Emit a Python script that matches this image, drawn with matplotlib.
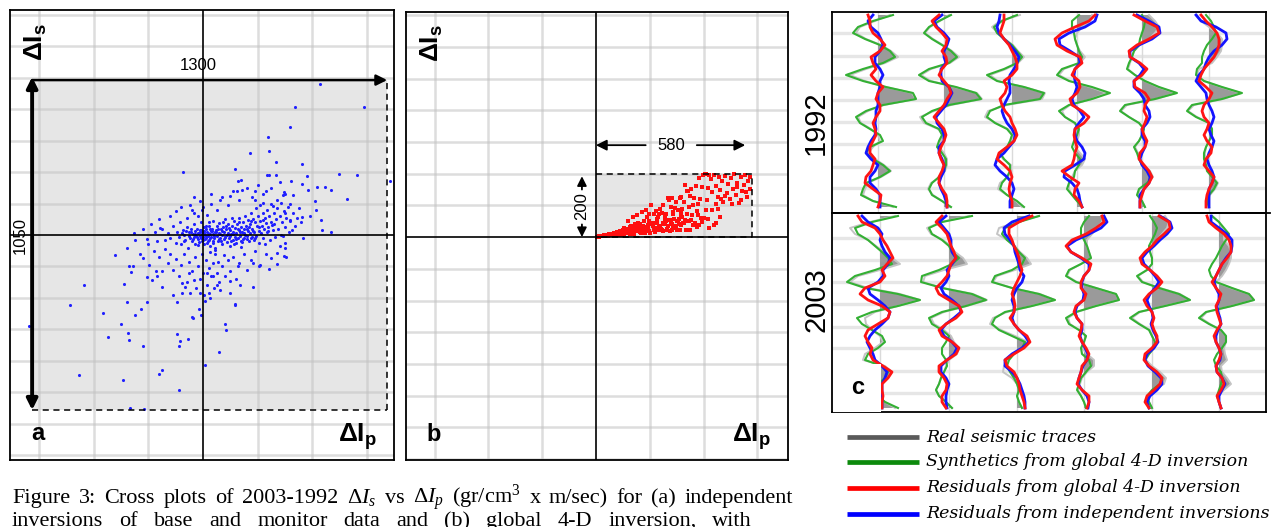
import numpy as np
import matplotlib
matplotlib.use("Agg")
import matplotlib.pyplot as plt
from matplotlib.patches import Rectangle

plt.rcParams['font.family'] = ['Liberation Sans', 'DejaVu Sans']
plt.rcParams['mathtext.fontset'] = 'custom'
plt.rcParams['mathtext.rm'] = 'Liberation Serif'
plt.rcParams['mathtext.it'] = 'Liberation Serif:italic'
plt.rcParams['mathtext.bf'] = 'Liberation Sans:bold'

# ---------------- DATA ----------------
# panel a : independent inversions (dIp, dIs)
a_outliers = [(428,481),(337,407),(589,406),(318,344),(239,311),(172,260),(243,266),(267,233),(361,227),(116,209),
 (-74,200),(233,190),(266,190),(379,187),(499,193),(562,190),(684,171),(323,171),(361,163),(416,153),(447,153),
 (468,143),(528,116),(411,108),(413,81),(331,128),(296,137),(383,144),(392,61),(361,57),(432,49),(436,17),(468,10),
 (367,-11),(304,-71),(243,-108),(270,-91),(206,-100),(184,-165),(116,-220),(82,-282),(83,-301),(57,-372),(6,-414),
 (-90,-492),(-267,-550),(-218,-553),(-292,-463),(-456,-444),(-163,-443),(-152,-430),(-54,-331),(-96,-316),(-84,-338),
 (-88,-352),(-221,-352),(-274,-312),(-271,-335),(-301,-284),(-350,-326),(-367,-248),(-489,-224),(-436,-160),(-636,-290),
 (-249,-255),(-226,-237),(-279,-214),(-206,-214),(-289,-156),(-322,-63),(-279,-41),(-273,-98),(-255,-100),(-264,-119),
 (-206,-134),(-188,-144),(-170,-131),(-172,-113),(-152,-116),(-149,-165),(-199,-94),(-220,-73),(-231,-60),(-249,-15),
 (-253,6),(-158,21),(-206,-12),(-112,-190),(-96,-213),(-41,-262),(-36,-264),(-15,-237),(-9,-253),(6,-211),(26,-202),
 (62,-176),(99,-184),(117,-222),(20,-184),(-13,-184),(-48,-184),(-78,-184),(-66,-165),(-35,-142),(-50,-121),(-78,-153),
 (135,-158),(99,-147),(50,-158),(38,-131),(13,-121),(129,-100),(184,-89),(248,-74),(270,-57),(300,-25),(282,-36),
 (-33,120),(-48,96),(-11,107),(-32,70),(-5,78),(28,131),(62,112),(99,123),(126,171),(138,176),(141,144),(123,139),
 (190,139),(230,139),(190,112),(221,102),(257,91),(291,128),(284,102),(300,70),(318,49),(324,17),(294,-4),(300,-41),(297,-68)]
a_core = [(-150,20),(-130,5),(-120,-10),(-110,30),(-100,-25),(-95,10),(-90,-5),(-85,40),(-80,-30),(-75,15),(-70,0),
 (-65,-15),(-60,25),(-55,-40),(-50,8),(-48,-8),(-45,20),(-40,-20),(-38,3),(-35,35),(-32,-5),(-30,12),(-28,-28),(-25,-2),
 (-22,18),(-20,-12),(-18,5),(-15,-22),(-12,8),(-10,-3),(-8,15),(-6,-10),(-5,2),(-3,-18),(-2,10),(0,-5),(2,25),(3,-30),
 (5,5),(6,-12),(8,0),(10,18),(12,-8),(14,-25),(15,8),(18,-2),(20,30),(22,-15),(24,4),(26,-35),(28,12),(30,-6),(32,20),
 (35,-20),(36,2),(38,45),(40,-10),(42,8),(45,-40),(47,15),(50,-3),(52,28),(55,-18),(58,5),(60,38),(62,-8),(65,18),
 (68,-28),(70,0),(72,25),(75,-12),(78,10),(80,50),(82,-5),(85,20),(88,-22),(90,5),(92,35),(95,-10),(98,15),(100,-35),
 (103,2),(105,28),(108,-15),(110,10),(112,45),(115,-5),(118,22),(120,-25),(122,6),(125,35),(128,-10),(130,15),(133,55),
 (135,-2),(138,25),(140,-18),(143,8),(145,40),(148,-8),(150,20),(153,62),(155,0),(158,30),(160,-12),(163,12),(165,48),
 (168,-20),(170,5),(173,35),(175,70),(178,-5),(180,20),(183,52),(185,-15),(188,8),(190,40),(193,85),(195,-2),(198,28),
 (200,60),(203,-25),(205,12),(208,45),(210,95),(213,5),(215,30),(218,70),(220,-10),(223,18),(225,55),(228,-30),(230,38),
 (233,80),(235,8),(238,25),(240,60),(245,-15),(248,42),(250,100),(255,15),(258,70),(260,35),(265,-5),(268,50),(270,85),
 (275,20),(280,60),(285,0),(290,40),(295,75),(300,25),(305,55),(310,90),(315,10),(320,45),(330,70),(335,30),(345,55),
 (350,85),(360,40),(-180,-50),(-170,-20),(-160,-70),(-140,-45),(-130,-90),(-120,-60),(-110,-110),(-100,-75),(-90,-130),
 (-80,-95),(-70,-60),(-60,-150),(-50,-85),(-40,-115),(-30,-70),(-25,-170),(-20,-100),(-10,-140),(-5,-60),(0,-120),
 (5,-190),(10,-80),(15,-160),(20,-105),(25,-55),(30,-130),(35,-90),(40,-170),(45,-60),(50,-120),(55,-85),(60,-150),
 (70,-100),(75,-65),(80,-130),(90,-80),(100,-115),(110,-70),(120,-140),(130,-90),(150,-60),(160,-110),(175,-80),
 (190,-50),(210,-95),(230,-60),(-220,20),(-200,-30),(-190,35),(-175,10),(-160,50),(-140,-15),(-120,60),(-100,75),
 (-80,90),(-60,55),(-40,80),(-20,60),(0,90),(15,65),(30,100),(50,80),(70,120),(90,95),(110,140),(130,110),(160,150),
 (180,120),(200,160),(220,130),(250,150),(270,110),(300,130),(320,100),(280,170),(240,190)]
a_dense = [(-5,-8),(3,12),(11,-4),(19,6),(27,-9),(33,14),(41,-2),(49,9),(57,-14),(63,3),(71,12),(79,-7),(87,-1),
 (95,23),(103,-20),(111,4),(119,-12),(127,19),(135,9),(143,-22),(151,7),(159,-3),(167,24),(175,-10),(183,13),(-13,17),
 (-21,-6),(-29,4),(-37,-14),(-45,9),(-53,-2),(-61,13),(-69,-20),(-77,5),(1,-15),(9,28),(17,-20),(25,18),(37,-26),
 (53,20),(67,-18),(83,30),(97,-4),(113,-28),(131,42),(147,-12),(161,18),(177,44),(191,-8),(205,26),(219,48),(236,12),
 (252,32),(-9,40),(-17,-32),(21,42),(44,-48),(74,40),(106,54),(140,-38)]
a_range_ip, a_range_is = 1300, 1050

# panel b : global 4-D inversion (dIp, dIs)
b_band = [(3,0),(6,1),(8,1),(11,1),(13,2),(16,3),(18,2),(21,3),(24,4),(26,3),(29,4),(31,6),(34,7),(36,7),(39,8),
 (41,5),(44,4),(46,5),(49,10),(51,7),(54,9),(57,6),(59,10),(62,8),(64,8),(67,8),(69,14),(72,8),(74,8),(77,14),(80,17),
 (82,12),(85,6),(87,9),(90,18),(92,18),(95,13),(97,8),(100,21),(103,19),(105,9),(108,18),(110,24),(113,13),(115,25),
 (118,25),(120,14),(123,22),(126,19),(128,11),(131,9),(133,20),(136,27),(138,14),(141,10),(143,31),(146,27),(149,20),
 (151,32),(154,21),(156,21),(159,24),(161,34),(164,17),(166,20),(169,12),(172,31),(174,34),(177,15),(179,30),(182,24),
 (184,13),(187,31),(189,19),(192,38),(195,32),(197,20),(200,14),(202,40),(205,44),(207,44),(210,42),(212,35),(215,22),
 (218,43),(220,15),(223,26),(225,30),(228,45),(230,23),(233,35),(236,28),(238,32),(241,25),(243,21),(246,21),(248,45),
 (251,18),(254,42),(256,47),(259,55),(261,52),(264,27),(266,23),(269,36),(272,54),(274,19),(277,55),(279,46),(282,42),
 (284,24),(287,34),(290,30),(292,58),(295,30),(297,35),(300,21),(302,50),(305,51),(308,41),(310,56),(313,22),(315,67),
 (318,38),(321,64),(324,43),(327,44),(331,55),(334,23),(338,72),(341,51),(345,52),(349,24),(353,53),(357,71),(361,37),
 (366,37),(370,44),(375,32),(380,69),(385,39),(390,59),(396,47),(402,60),(408,87),(415,56),(422,30),(430,85),(438,38),
 (447,46),(455,90),(463,62)]
b_mid = [(105,29),(118,51),(127,32),(139,64),(146,41),(152,70),(163,41),(171,79),(178,50),(185,85),(191,65),(199,74),
 (204,100),(211,46),(217,74),(222,82),(229,64),(235,73),(240,89),(246,76),(251,100),(255,56),(262,73),(267,123),
 (273,117),(278,95),(284,122),(288,72),(294,91),(299,111),(305,85),(311,124),(316,126),(321,90),(327,111),(332,163),
 (338,145),(343,147),(349,129),(354,152),(360,101),(365,124),(371,160),(376,83),(382,187),(387,120),(393,157),
 (398,195),(404,198),(410,199),(416,154),(421,197),(132,36),(158,45),(196,52),(226,58),(258,66),(286,80),(318,78),
 (346,95),(379,105),(412,118)]
b_upper = [(428,183),(433,142),(439,197),(446,161),(452,128),(457,189),(463,150),(469,176),(474,112),(480,193),
 (486,138),(491,168),(497,121),(503,185),(509,152),(515,199),(520,133),(526,172),(532,108),(538,190),(543,147),
 (549,165),(555,196),(561,126),(566,178),(571,152),(574,191),(541,118),(507,104),(478,130),(466,119),(445,104),
 (523,158),(559,141)]
b_range_ip, b_range_is = 580, 200

# panel c : traces (amplitude per time sample), 6 traces per survey
real_1992 = [
 [12,-3,-18,-22,-12,3,13,20,7,-12,-28,-13,8,34,38,6,-10,-20,-17,-7,0,2,-5,-10,-3,6,13,3,-10,-13,-15,-5,15],
 [5,-4,-14,-19,-11,-1,8,15,6,-13,-23,-13,11,33,38,7,-10,-24,-20,-6,-1,-3,-5,0,3,3,1,-4,-13,-16,-11,-2,6],
 [8,-12,-20,-14,-7,1,6,12,6,-6,-22,-14,12,33,30,-5,-24,-27,-16,-4,1,-1,-4,-13,-9,-1,-1,-4,-12,-14,-5,4,10],
 [15,13,5,0,-2,0,3,8,3,-13,-18,-7,13,30,15,-7,-15,-12,-3,2,2,0,-2,3,8,5,-2,-5,-8,-8,-5,0,5],
 [7,13,17,13,7,-2,-8,-10,-12,-14,-7,3,16,34,14,-15,-21,-13,-3,2,0,-3,-7,-4,-2,1,8,11,6,-2,-4,0,3],
 [-12,-8,0,8,13,13,12,8,3,-10,-12,-5,12,32,14,-15,-21,-12,0,3,3,0,-3,-4,-4,-2,-1,4,9,6,1,-2,0]]
synth_1992 = [
 [15,-5,-20,-25,-13,2,12,17,5,-15,-32,-15,8,35,38,5,-12,-22,-18,-8,2,5,-8,-12,-5,5,12,2,-12,-15,-17,-5,18],
 [7,-5,-15,-20,-12,-2,7,13,5,-15,-25,-15,12,32,37,5,-12,-22,-18,-5,-2,-5,-7,-2,2,2,0,-5,-12,-15,-12,-2,7],
 [5,-10,-18,-15,-8,0,5,10,5,-8,-25,-15,12,32,28,-8,-22,-25,-17,-5,0,-2,-5,-12,-8,-2,-2,-5,-10,-12,-5,5,12],
 [2,-5,-5,-3,-2,0,2,5,2,-15,-20,-8,15,33,15,-8,-18,-12,-2,2,0,-3,-5,-2,3,2,-2,-3,-8,-10,-5,0,5],
 [0,3,2,0,-2,-3,-8,-10,-13,-15,-7,3,17,35,13,-17,-22,-13,-3,2,0,-3,-8,-5,-3,0,7,10,5,-3,-5,0,3],
 [-3,2,5,7,3,-2,-5,-7,-7,-12,-13,-5,13,33,13,-17,-22,-13,0,3,3,0,-3,-5,-5,-3,-2,3,8,5,0,-2,0]]
resid_global_1992 = [
 [-10,-8,-8,-5,2,7,2,-7,-5,-2,-7,-2,5,0,-2,2,2,-2,-5,-3,-2,-5,-8,-8,-3,-5,-7,-12,-13,-5,3,2,0],
 [-5,-12,-8,-2,3,2,-2,2,3,-2,-5,0,5,7,3,0,-5,-10,-5,0,2,0,-3,-5,-3,0,-2,-5,-5,-2,2,3,3],
 [-8,-8,-10,-12,-8,-3,0,3,5,5,0,-8,-5,-7,-12,-10,-7,-2,0,3,5,2,-5,-13,-15,-8,-2,0,-2,-3,-2,0,0],
 [18,12,-2,-15,-22,-20,-10,3,5,-2,-5,2,3,0,-7,-5,5,12,7,-2,-3,-2,0,-2,-3,-5,-15,-7,2,-2,-3,2,5],
 [-8,3,15,17,7,-5,-13,-12,-2,5,0,-8,-7,3,7,3,2,5,3,0,2,5,3,-2,-3,2,7,10,7,2,0,-2,-2],
 [-8,-3,3,8,10,10,8,5,0,-5,-8,-10,-3,3,0,-5,-7,-5,0,-2,-5,-2,3,2,-3,-5,0,5,3,0,-2,-3,-3]]
resid_indep_1992 = [
 [-5,-10,-7,0,3,5,2,-3,-3,2,5,2,2,0,0,0,-2,-2,-3,-2,-3,-7,-10,-12,-7,0,-3,-8,-8,-2,2,2,2],
 [-2,-10,-7,0,5,3,0,0,2,-3,-3,-2,5,8,5,2,-3,-8,-7,-2,0,0,-5,-5,-2,0,0,-3,-5,-3,0,2,3],
 [-12,-13,-15,-13,-8,-2,3,7,5,2,-2,-3,-2,-2,-5,-8,-10,-8,-5,0,3,2,-3,-8,-15,-17,-12,-5,0,2,0,-2,-2],
 [20,18,8,-8,-18,-17,-7,2,3,-2,-3,-2,0,-2,-5,-3,3,7,2,-2,-2,0,5,8,7,-2,-12,-13,-5,0,2,3,5],
 [-5,7,17,18,10,-3,-12,-12,-3,2,-2,-8,-8,-2,2,3,7,8,5,0,0,3,3,0,-2,0,5,8,7,2,-2,-2,-2],
 [-13,-8,7,17,18,13,5,0,-3,-5,-10,-13,-8,-3,-2,0,3,5,3,0,2,5,3,0,-2,0,3,5,3,0,0,0,0]]

real_2003 = [
 [15,-10,-30,-25,-12,-4,4,12,20,0,-22,-30,-12,20,40,18,-5,-15,-14,-8,0,3,-5,-15,-17,5,12,8,0,-2,-2,5,15],
 [20,-8,-22,-18,-6,2,6,14,18,-5,-24,-26,-6,24,38,18,-5,-18,-15,-5,2,5,10,8,0,-3,-5,-8,-10,-13,-10,-3,3],
 [22,0,-18,-20,-10,-2,3,10,14,-2,-20,-24,-5,23,38,15,-10,-24,-27,-16,-2,11,6,-4,-9,-13,-14,-5,0,2,0,2,5],
 [20,18,13,8,3,3,5,7,-3,-14,-17,-7,12,32,35,12,-7,-16,-14,-5,2,0,-2,3,10,10,3,-2,-4,-6,-3,0,2],
 [13,17,15,10,5,0,-2,0,0,-5,-14,-9,8,28,38,13,-12,-20,-12,-2,0,3,2,-3,-6,0,8,14,12,2,-4,-3,0],
 [-7,0,3,5,5,10,12,12,10,7,3,-3,12,30,35,13,-12,-18,-9,2,7,7,5,6,8,2,3,8,12,5,-1,0,2]]
synth_2003 = [
 [18,-8,-25,-22,-12,-5,2,8,12,-5,-25,-33,-15,18,40,18,-8,-23,-18,-8,2,5,-2,-12,-15,2,8,5,-2,-2,-2,5,18],
 [23,-7,-20,-17,-7,0,3,10,3,-10,-27,-28,-7,23,37,17,-7,-20,-17,-7,0,-3,-7,-7,-3,-2,-5,-8,-10,-13,-10,-3,3],
 [22,2,-12,-15,-10,-3,2,8,5,-5,-22,-25,-5,22,38,15,-12,-22,-25,-18,-5,8,5,-3,-8,-10,-7,-3,0,2,0,2,5],
 [5,0,-3,-3,0,3,5,7,-3,-15,-18,-8,12,32,35,12,-8,-18,-15,-5,2,0,-3,-2,5,7,2,-3,-5,-7,-3,0,2],
 [-2,2,5,3,0,-3,-2,0,0,-5,-15,-10,7,27,38,13,-13,-22,-13,-3,0,3,2,-3,-7,-3,3,10,8,0,-5,-3,0],
 [-7,0,5,10,7,3,0,-3,-7,-10,-8,-3,13,30,35,13,-13,-20,-10,2,7,7,3,-2,-5,-3,2,3,2,0,-2,0,2]]
resid_global_2003 = [
 [-22,-18,-5,0,3,7,10,13,7,2,5,0,-15,-20,-12,2,10,8,-2,-12,-15,-12,-8,-10,-7,3,12,8,2,2,3,2,2],
 [-7,-13,-7,-2,0,2,5,7,2,0,-2,-7,-13,-10,0,10,13,7,-3,-10,-7,3,10,7,-2,-10,-10,-5,-2,-3,-7,-7,-3],
 [15,2,-8,-8,-5,-3,0,2,3,5,3,0,-3,-5,-3,-2,-3,-7,-3,2,10,13,7,-3,-12,-10,-3,0,2,3,5,7,8],
 [18,20,12,2,-12,-18,-13,-2,7,5,0,-3,-3,2,0,-8,-10,-7,-2,-3,-5,-2,2,5,3,-2,-3,-5,-7,-2,5,5,3],
 [7,17,18,12,5,0,-7,-12,-10,-2,5,10,5,-3,-8,-5,0,2,0,2,5,5,0,-7,-8,-3,5,10,8,2,-5,-7,-3],
 [-12,-10,-3,5,10,12,12,8,3,0,-3,-7,-3,2,0,-3,-2,0,2,-2,-5,-3,0,2,0,-3,-2,3,5,2,-2,0,2]]
resid_indep_2003 = [
 [-18,-12,-2,2,0,2,5,10,8,3,3,-2,-12,-10,-2,5,10,8,2,-5,-10,-13,-10,-7,-5,2,7,5,2,2,2,2,2],
 [-3,-10,-5,0,2,2,3,7,3,-2,0,-3,-8,-5,3,10,12,5,-3,-8,-5,3,8,5,-2,-8,-8,-3,0,-2,-3,-3,-2],
 [12,-5,-13,-12,-7,-3,-2,0,2,3,7,5,0,-3,-5,-3,-3,-5,-3,2,8,12,5,-5,-12,-12,-5,0,3,5,7,8,8],
 [20,23,17,5,-8,-17,-13,-3,5,5,0,-2,-2,0,-1,-7,-9,-7,-2,-2,-4,-2,1,4,3,-1,-3,-5,-6,-2,3,5,4],
 [8,18,20,15,8,2,-5,-10,-8,-2,3,7,3,-2,-5,-3,0,1,-1,1,4,6,2,-5,-7,-4,3,9,10,5,-2,-5,-3],
 [-8,-8,0,8,13,13,12,7,3,0,-3,-5,-3,0,0,-2,-1,1,2,-1,-3,-3,0,2,1,-3,-2,3,6,3,0,0,2]]

survey_labels = ["1992", "2003"]
legend_labels = ["Real seismic traces", "Synthetics from global 4-D inversion",
                 "Residuals from global 4-D inversion", "Residuals from independent inversions"]
caption_line1 = ["Figure", "3:", "Cross", "plots", "of", "2003-1992", r"$\mathit{\Delta I_s}$", "vs",
                 r"$\mathit{\Delta I_p}$", "(gr/cm$^3$", "x", "m/sec)", "for", "(a)", "independent"]
caption_line2 = ["inversions", "of", "base", "and", "monitor", "data", "and", "(b)", "global", "4-D",
                 "inversion,", "with"]

# ---------------- FIGURE ----------------
W, H = 1276, 527
fig = plt.figure(figsize=(W / 100, H / 100), dpi=100)
fig.patch.set_facecolor('white')

def px_axes(x0, y0, x1, y1):
    return fig.add_axes([x0 / W, 1 - y1 / H, (x1 - x0) / W, (y1 - y0) / H])

GRID_C = '#c2c2c2'
RECT_C = '#e6e6e6'

def crossplot(ax, xl, yl, letter):
    ax.set_xlim(*xl); ax.set_ylim(*yl)
    ax.set_xticks([]); ax.set_yticks([])
    for s in ax.spines.values():
        s.set_linewidth(1.3)
    for gx in [-600, -400, -200, 200, 400, 600]:
        ax.axvline(gx, color=GRID_C, alpha=0.55, lw=1.8, zorder=1)
    for gy in range(-700, 701, 100):
        if gy != 0:
            ax.axhline(gy, color=GRID_C, alpha=0.55, lw=1.8, zorder=1)
    ax.axhline(0, color='black', lw=1.2, zorder=4)
    ax.axvline(0, color='black', lw=1.2, zorder=4)
    ax.text(0.068, 0.93, r'$\mathbf{\Delta I_s}$', transform=ax.transAxes, rotation=90,
            ha='center', va='center', fontsize=19, zorder=6)
    ax.text(0.905, 0.053, r'$\mathbf{\Delta I_p}$', transform=ax.transAxes,
            ha='center', va='center', fontsize=19, zorder=6)
    ax.text(0.072, 0.058, letter, transform=ax.transAxes, fontweight='bold',
            ha='center', va='center', fontsize=17, zorder=6)

# ---- panel a ----
axa = px_axes(10, 10, 394, 460)
crossplot(axa, (-707, 699), (-716, 716), 'a')
ax0, ay0 = -626, -557
axa.add_patch(Rectangle((ax0, ay0), a_range_ip, a_range_is, facecolor=RECT_C, edgecolor='none', zorder=0))
pa = np.array(a_outliers + a_core + a_dense)
axa.scatter(pa[:, 0], pa[:, 1], s=5, c='#2020ff', marker='o', linewidths=0, zorder=3)
axa.plot([ax0 + a_range_ip] * 2, [ay0, ay0 + a_range_is], 'k--', lw=1.1, zorder=5, dashes=(4, 3))
axa.plot([ax0, ax0 + a_range_ip], [ay0, ay0], 'k--', lw=1.1, zorder=5, dashes=(4, 3))
axa.annotate('', xy=(ax0 + a_range_ip, ay0 + a_range_is), xytext=(ax0, ay0 + a_range_is),
             arrowprops=dict(arrowstyle='-|>', color='black', lw=1.8, mutation_scale=16,
                             shrinkA=0, shrinkB=0), zorder=6)
axa.annotate('', xy=(ax0, ay0), xytext=(ax0, ay0 + a_range_is + 10),
             arrowprops=dict(arrowstyle='<|-|>', color='black', lw=2.8, mutation_scale=16,
                             shrinkA=0, shrinkB=0), zorder=6)
axa.text(-18, ay0 + a_range_is + 45, str(a_range_ip), ha='center', va='center', fontsize=12, zorder=6)
axa.text(-668, 0, str(a_range_is), ha='center', va='center', fontsize=12, rotation=90, zorder=6)

# ---- panel b ----
axb = px_axes(406, 12, 788, 460)
crossplot(axb, (-706, 714), (-703, 710), 'b')
axb.add_patch(Rectangle((0, 0), b_range_ip, b_range_is, facecolor=RECT_C, edgecolor='none', zorder=0))
pb = np.array(b_band + b_mid + b_upper)
axb.scatter(pb[:, 0], pb[:, 1], s=6, c='#ff1010', marker='s', linewidths=0, zorder=3)
axb.plot([0, b_range_ip, b_range_ip, 0], [b_range_is, b_range_is, 0, 0], 'k--', lw=1.1,
         dashes=(4, 3), zorder=5)
yarr = b_range_is + 90
axb.annotate('', xy=(0, yarr), xytext=(185, yarr),
             arrowprops=dict(arrowstyle='-|>', color='black', lw=1.3, mutation_scale=16, shrinkA=0, shrinkB=0))
axb.annotate('', xy=(b_range_ip - 25, yarr), xytext=(375, yarr),
             arrowprops=dict(arrowstyle='-|>', color='black', lw=1.3, mutation_scale=16, shrinkA=0, shrinkB=0))
axb.text(280, yarr, str(b_range_ip), ha='center', va='center', fontsize=12)
xarr = -52
axb.annotate('', xy=(xarr, b_range_is - 8), xytext=(xarr, 150),
             arrowprops=dict(arrowstyle='-|>', color='black', lw=1.3, mutation_scale=14, shrinkA=0, shrinkB=0))
axb.annotate('', xy=(xarr, 0), xytext=(xarr, 40),
             arrowprops=dict(arrowstyle='-|>', color='black', lw=1.3, mutation_scale=14, shrinkA=0, shrinkB=0))
axb.text(xarr, 98, str(b_range_is), ha='center', va='center', fontsize=12, rotation=90)

# ---- panel c ----
panels = [
    dict(box=(832, 12, 1266, 213), ylim=(33.0, -0.5), base=[878, 944, 1012, 1077, 1142, 1209],
         bands=[3.0, 6.8, 10.5, 14.2, 17.8, 21.5, 25.3, 28.8],
         data=(real_1992, synth_1992, resid_indep_1992, resid_global_1992)),
    dict(box=(832, 213, 1266, 412), ylim=(32.67, -0.5), base=[880, 949, 1017, 1084, 1152, 1219],
         bands=[3.7, 7.3, 11.0, 14.7, 18.5, 22.0, 25.8, 29.5],
         data=(real_2003, synth_2003, resid_indep_2003, resid_global_2003)),
]
for k, p in enumerate(panels):
    ax = px_axes(*p['box'])
    ax.set_xlim(p['box'][0], p['box'][2]); ax.set_ylim(*p['ylim'])
    ax.set_xticks([]); ax.set_yticks([])
    for s in ax.spines.values():
        s.set_linewidth(1.3)
    for b in p['bands']:
        ax.axhline(b, color='#e6e6e6', lw=2.4, zorder=0)
    real, synth, rind, rglob = p['data']
    for i, x0 in enumerate(p['base']):
        ax.axvline(x0, color='#dadada', lw=1.0, zorder=0.5)
        r = np.array(real[i], float); t = np.arange(len(r))
        ax.fill_betweenx(t, x0, x0 + r, where=r > 0, interpolate=True, color='#9a9a9a', lw=0, zorder=1)
        ax.plot(x0 + r, t, color='#c4c4c4', lw=1.4, zorder=2)
        g = np.array(synth[i], float)
        ax.plot(x0 + g, np.arange(len(g)), color='#33b033', lw=1.5, zorder=3)
        bl = np.array(rind[i], float)
        ax.plot(x0 + bl, np.arange(len(bl)), color='#1414ff', lw=2.0, zorder=4)
        rd = np.array(rglob[i], float)
        ax.plot(x0 + rd, np.arange(len(rd)), color='#ff1414', lw=2.0, zorder=5)
    if k == 1:
        y_c0 = (364 - 216) / 6.0
        ax.add_patch(Rectangle((833, y_c0), 48, 40, facecolor='white', edgecolor='none', zorder=8))
        ax.text(858, (388 - 216) / 6.0, 'c', ha='center', va='center', fontsize=17,
                fontweight='bold', zorder=9)

# ---- overlay in pixel coordinates ----
axo = fig.add_axes([0, 0, 1, 1], zorder=20)
axo.set_xlim(0, W); axo.set_ylim(H, 0); axo.axis('off')
axo.plot([832, 1270], [213, 213], color='black', lw=1.3)
axo.text(816, 123, survey_labels[0], rotation=90, ha='center', va='center', fontsize=21)
axo.text(816, 300, survey_labels[1], rotation=90, ha='center', va='center', fontsize=21)

leg_colors = ['#5a5a5a', '#0c8a0c', '#ff0000', '#0000ff']
leg_y = [437, 462, 488, 514]
for lab, c, y in zip(legend_labels, leg_colors, leg_y):
    axo.plot([847, 919], [y, y], color=c, lw=3.4, solid_capstyle='butt')
    axo.text(926, y, lab, ha='left', va='center', fontsize=12.5, family='DejaVu Serif', style='italic')

renderer = fig.canvas.get_renderer()

def justified(words, y, x_start, x_end, fs):
    ts = [axo.text(0, y, w, ha='left', va='baseline', fontsize=fs, family='Liberation Serif')
          for w in words]
    ws = [t.get_window_extent(renderer).width for t in ts]
    gap = (x_end - x_start - sum(ws)) / (len(ts) - 1)
    xc = x_start
    for t, wd in zip(ts, ws):
        t.set_x(xc)
        xc += wd + gap

justified(caption_line1, 503, 12, 793, 16)
justified(caption_line2, 526, 12, 752, 16)

fig.savefig('out.png', dpi=100, facecolor='white')
